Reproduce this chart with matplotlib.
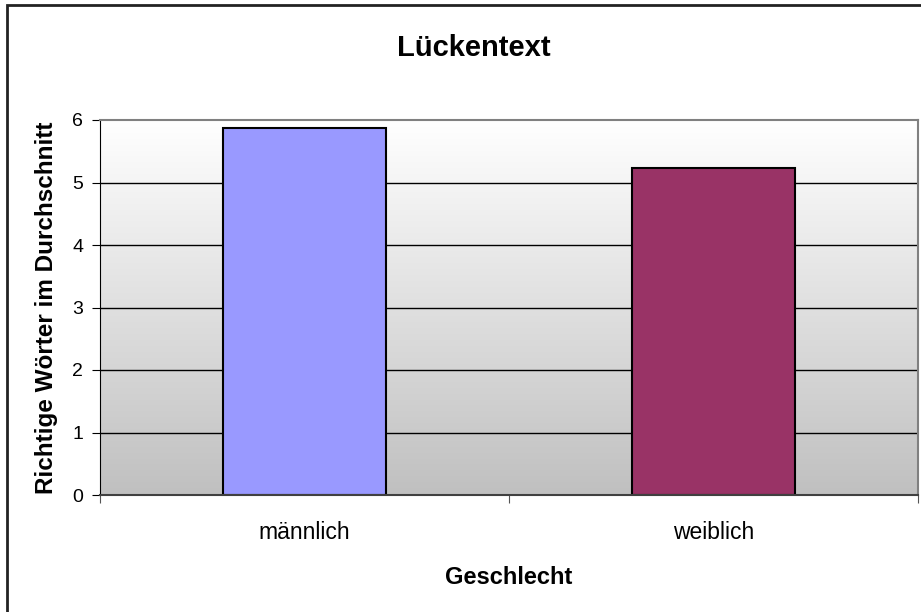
import numpy as np
import matplotlib.pyplot as plt
from matplotlib.patches import Rectangle
from matplotlib.colors import LinearSegmentedColormap

plt.rcParams['font.family'] = ['Liberation Sans', 'DejaVu Sans']

categories = ['männlich', 'weiblich']
values = [5.88, 5.23]
colors = ['#9999ff', '#993366']

fig = plt.figure(figsize=(9.21, 6.12), dpi=100)
ax = fig.add_axes([100 / 921, 117 / 612, 818 / 921, 375 / 612])

# gradient background of the plot area
grad = np.linspace(0, 1, 256).reshape(-1, 1)
cmap = LinearSegmentedColormap.from_list('g', ['#ffffff', '#c0c0c0'])
ax.imshow(grad, cmap=cmap, aspect='auto', extent=[0, 2, 0, 6],
          origin='upper', zorder=0)

for y in range(1, 6):
    ax.axhline(y, color='black', lw=1, zorder=1)

x = np.arange(len(categories)) + 0.5
ax.bar(x, values, width=0.4, color=colors, edgecolor='black', lw=1.5, zorder=2)

ax.set_xlim(0, 2)
ax.set_ylim(0, 6)
ax.set_yticks(range(0, 7))
ax.set_xticks([0, 1, 2])
ax.set_xticklabels([])
ax.set_xticks(x, minor=True)
ax.set_xticklabels(categories, minor=True)
ax.tick_params(axis='x', which='minor', length=0, pad=19, labelsize=16.5)
ax.tick_params(axis='x', which='major', length=6, direction='out', color='#555555')
ax.tick_params(axis='y', length=6, direction='out', labelsize=14, pad=6)

for s in ['top', 'right']:
    ax.spines[s].set_color('#808080')
    ax.spines[s].set_linewidth(1.5)
ax.spines['left'].set_color('black')
ax.spines['bottom'].set_color('#404040')
ax.spines['bottom'].set_linewidth(1.5)

ax.set_ylabel('Richtige Wörter im Durchschnitt', fontsize=17.5, fontweight='bold',
              va='center')
ax.yaxis.set_label_coords((47 - 100) / 818, 0.5)
ax.set_xlabel('Geschlecht', fontsize=17, fontweight='bold', va='center')
ax.xaxis.set_label_coords(0.5, (495 - 577) / 375)
fig.text(474 / 921, 1 - 48 / 612, 'Lückentext', ha='center', va='center',
         fontsize=21, fontweight='bold')

# chart border
fig.patches.append(Rectangle((7 / 921, -0.1), 1.2, 1 - 5 / 612 + 0.1,
                             transform=fig.transFigure, fill=False,
                             edgecolor='#222222', lw=2))

fig.savefig('out.png', dpi=100)
